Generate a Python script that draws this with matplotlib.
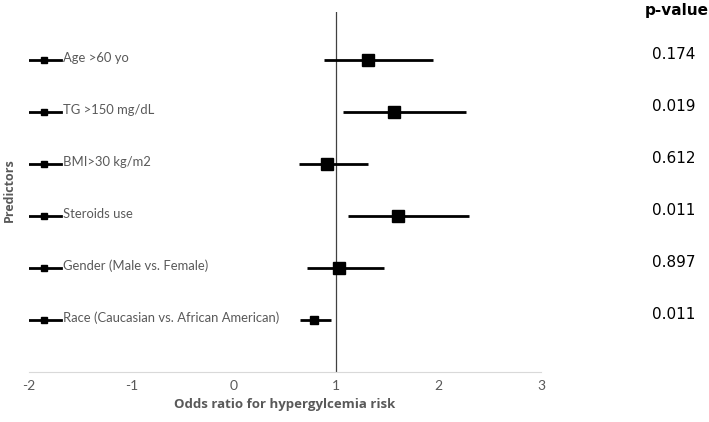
import matplotlib.pyplot as plt
import matplotlib.transforms as mtransforms
from matplotlib.lines import Line2D

plt.rcParams['axes.unicode_minus'] = False

# Odds ratios with 95% CI
predictors = ['Age >60 yo', 'TG >150 mg/dL', 'BMI>30 kg/m2', 'Steroids use',
              'Gender (Male vs. Female)', 'Race (Caucasian vs. African American)']
odds_ratio = [1.31, 1.56, 0.91, 1.60, 1.03, 0.78]
ci_low = [0.88, 1.07, 0.64, 1.12, 0.71, 0.65]
ci_high = [1.95, 2.27, 1.31, 2.30, 1.47, 0.95]
p_values = ['0.174', '0.019', '0.612', '0.011', '0.897', '0.011']
marker_sizes = [8, 8, 9, 8, 8.5, 6]

gray = '#595959'
rows = list(range(len(predictors), 0, -1))

fig = plt.figure(figsize=(7.09, 4.22), dpi=100)
ax = fig.add_axes([0.041, 0.1185, 0.722, 0.853])
ax.set_xlim(-2, 3)
ax.set_ylim(0, 6.92)

for y, orv, lo, hi, ms in zip(rows, odds_ratio, ci_low, ci_high, marker_sizes):
    ax.plot([lo, hi], [y, y], color='black', lw=2, solid_capstyle='butt', zorder=3)
    ax.plot(orv, y, marker='s', color='black', ms=ms, zorder=4)

# reference line at OR = 1
ax.axvline(1, color='#404040', lw=0.9, zorder=2)

# legend-like predictor labels on the left
for y, name in zip(rows, predictors):
    ax.add_line(Line2D([-2.0, -1.69], [y, y], color='black', lw=2, zorder=3))
    ax.plot(-1.85, y, marker='s', color='black', ms=5, zorder=4)
    ax.text(-1.67, y + 0.04, name, color=gray, fontsize=9.4, family='Lato',
            va='center', ha='left')

# p-value column
trans = mtransforms.blended_transform_factory(fig.transFigure, ax.transData)
fig.text(0.955, 0.975, 'p-value', fontsize=11, fontweight='bold', ha='center', va='center')
for y, p in zip(rows, p_values):
    ax.text(0.950, y + 0.1, p, fontsize=11, ha='center', va='center',
            transform=trans, clip_on=False)

ax.set_xticks([-2, -1, 0, 1, 2, 3])
ax.set_yticks([])
for s in ['top', 'right', 'left']:
    ax.spines[s].set_visible(False)
ax.spines['bottom'].set_color('#d9d9d9')
ax.tick_params(axis='x', length=0, colors=gray, labelsize=10, pad=6)
for lbl in ax.get_xticklabels():
    lbl.set_family('Lato')

ax.set_xlabel('Odds ratio for hypergylcemia risk', color=gray, fontsize=9.5,
              fontweight='bold', family='Open Sans', labelpad=4)
fig.text(0.013, 0.55, 'Predictors', rotation=90, color=gray, fontsize=9,
         fontweight='bold', family='Open Sans', ha='center', va='center')

plt.savefig('out.png', dpi=100)
